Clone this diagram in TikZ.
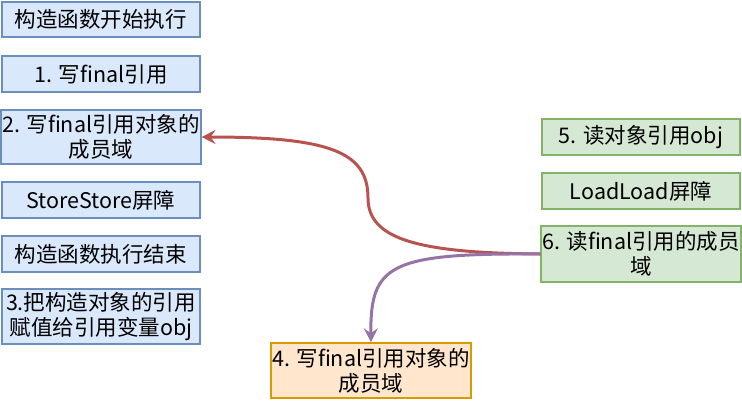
\documentclass[tikz,border=0pt]{standalone}
\usepackage{fontspec}
\setmainfont{Noto Sans CJK SC}
\usetikzlibrary{positioning}
\usetikzlibrary{arrows.meta}
\definecolor{bluefill}{HTML}{DAE8FC}
\definecolor{bluedraw}{HTML}{6C8EBF}
\definecolor{greenfill}{HTML}{D5E8D4}
\definecolor{greendraw}{HTML}{82B366}
\definecolor{orangefill}{HTML}{FFE6CC}
\definecolor{orangedraw}{HTML}{D79B00}
\definecolor{redline}{HTML}{B85450}
\definecolor{purpleline}{HTML}{9673A6}
\tikzset{
  box/.style={rectangle, minimum width=198pt, inner sep=1pt, align=center,
    line width=1.5pt, font=\fontsize{21.5}{25}\selectfont},
  bluebox/.style={box, fill=bluefill, draw=bluedraw},
  greenbox/.style={box, fill=greenfill, draw=greendraw},
  orangebox/.style={box, fill=orangefill, draw=orangedraw},
}
\begin{document}
\begin{tikzpicture}[x=1pt,y=-1pt]

\useasboundingbox (0,0) rectangle (742,400);

%%%%%%%%%%%%  writer side %%%%%%%%%%%%%
\node[bluebox, minimum height=35pt] (ctorstart) at (101,19.5) {构造函数开始执行};
\node[bluebox, minimum height=36pt] (wref) at (101,74) {1. 写final引用};
\node[bluebox, minimum height=54pt] (wfield) at (101,137) {2. 写final引用对象的\\成员域};
\node[bluebox, minimum height=36pt] (ssbar) at (101,200) {StoreStore屏障};
\node[bluebox, minimum height=36pt] (ctorend) at (101,254) {构造函数执行结束};
\node[bluebox, minimum height=55pt] (assign) at (101,316.5) {3.把构造对象的引用\\赋值给引用变量obj};

%%%%%%%%%%%%  reader side %%%%%%%%%%%%%
\node[greenbox, minimum height=36pt] (rref) at (641,137) {5. 读对象引用obj};
\node[greenbox, minimum height=36pt] (llbar) at (641,191) {LoadLoad屏障};
\node[greenbox, minimum height=56pt] (rfield) at (641,254) {6. 读final引用的成员\\域};

\node[orangebox, minimum height=55pt] (wfield2) at (371,370.5) {4. 写final引用对象的\\成员域};

% arrows
\coordinate (bend) at (368,198);
\draw[redline, line width=3pt, -{Stealth[length=14pt,width=14pt,inset=5pt]}]
  (rfield.west) .. controls (420,253) and (368,240) .. (bend)
  .. controls (368,152) and (330,137) .. (wfield.east);
\draw[purpleline, line width=3pt, -{Stealth[length=14pt,width=14pt,inset=5pt]}]
  (rfield.west) .. controls (390,253) and (370,264) .. (wfield2.north);

\end{tikzpicture}
\end{document}
